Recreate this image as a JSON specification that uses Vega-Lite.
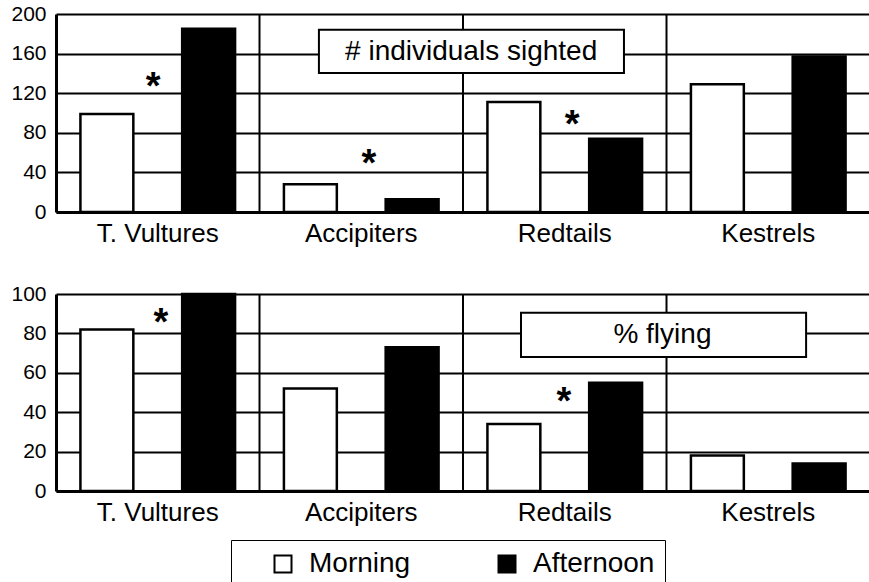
{
  "$schema": "https://vega.github.io/schema/vega-lite/v6.json",
  "padding": {"left": 10, "top": 3, "right": 0, "bottom": 0},
  "spacing": 37,
  "config": {
    "font": "Liberation Sans",
    "view": {"stroke": null},
    "axis": {"labelColor": "black", "domainColor": "black", "gridColor": "black", "gridOpacity": 1, "labelFont": "Liberation Sans"},
    "axisY": {"title": null, "grid": true, "gridWidth": 2, "ticks": false, "labelPadding": 10, "labelFontSize": 21, "domainWidth": 3, "labelOverlap": false},
    "legend": {"labelFont": "Liberation Sans", "labelColor": "black"},
    "text": {"font": "Liberation Sans", "color": "black"}
  },
  "datasets": {
    "birds": [
      {"panel": "count", "species": "T. Vultures", "time": "Morning", "value": 99},
      {"panel": "count", "species": "T. Vultures", "time": "Afternoon", "value": 185},
      {"panel": "count", "species": "Accipiters", "time": "Morning", "value": 28},
      {"panel": "count", "species": "Accipiters", "time": "Afternoon", "value": 13},
      {"panel": "count", "species": "Redtails", "time": "Morning", "value": 111},
      {"panel": "count", "species": "Redtails", "time": "Afternoon", "value": 74},
      {"panel": "count", "species": "Kestrels", "time": "Morning", "value": 129},
      {"panel": "count", "species": "Kestrels", "time": "Afternoon", "value": 157},
      {"panel": "flying", "species": "T. Vultures", "time": "Morning", "value": 82},
      {"panel": "flying", "species": "T. Vultures", "time": "Afternoon", "value": 100},
      {"panel": "flying", "species": "Accipiters", "time": "Morning", "value": 52},
      {"panel": "flying", "species": "Accipiters", "time": "Afternoon", "value": 73},
      {"panel": "flying", "species": "Redtails", "time": "Morning", "value": 34},
      {"panel": "flying", "species": "Redtails", "time": "Afternoon", "value": 55},
      {"panel": "flying", "species": "Kestrels", "time": "Morning", "value": 18},
      {"panel": "flying", "species": "Kestrels", "time": "Afternoon", "value": 14}
    ],
    "dividers": [{"d": 1}, {"d": 2}, {"d": 3}],
    "boxes": [
      {"panel": "count", "left": 1.292, "right": 2.791, "low": 140.5, "high": 184, "tx": 2.04, "ty": 162, "label": "# individuals sighted"},
      {"panel": "flying", "left": 2.285, "right": 3.686, "low": 68, "high": 90.5, "tx": 2.98, "ty": 79.3, "label": "% flying"}
    ],
    "stars": [
      {"panel": "count", "sx": 0.477, "sy": 132},
      {"panel": "count", "sx": 1.538, "sy": 55},
      {"panel": "count", "sx": 2.536, "sy": 94},
      {"panel": "flying", "sx": 0.516, "sy": 88.5},
      {"panel": "flying", "sx": 2.496, "sy": 48}
    ]
  },
  "vconcat": [
    {
      "width": 814,
      "height": 198,
      "resolve": {"scale": {"x": "independent"}, "axis": {"x": "independent"}},
      "layer": [
        {
          "data": {"name": "dividers"},
          "mark": {"type": "rule", "stroke": "black", "strokeWidth": 2},
          "encoding": {
            "x": {"field": "d", "type": "quantitative", "scale": {"domain": [0, 4], "nice": false, "zero": false}, "axis": null}
          }
        },
        {
          "data": {"name": "birds"},
          "transform": [{"filter": "datum.panel === 'count'"}],
          "mark": {"type": "bar", "stroke": "black", "strokeWidth": 2.5},
          "encoding": {
            "x": {"field": "species", "type": "nominal", "sort": ["T. Vultures", "Accipiters", "Redtails", "Kestrels"],
              "scale": {"paddingInner": 0, "paddingOuter": 0},
              "axis": {"title": null, "labelAngle": 0, "ticks": false, "labelFontSize": 26, "labelPadding": 8, "domainWidth": 3, "grid": false}},
            "xOffset": {"field": "time", "type": "nominal", "sort": ["Morning", "Afternoon"], "scale": {"paddingInner": 0.48, "paddingOuter": 0.24}},
            "y": {"field": "value", "type": "quantitative", "scale": {"domain": [0, 200], "nice": false},
              "axis": {"values": [0, 40, 80, 120, 160, 200]}},
            "fill": {"field": "time", "type": "nominal", "scale": {"domain": ["Morning", "Afternoon"], "range": ["white", "black"]},
              "legend": {"title": null, "orient": "none", "legendX": 175, "legendY": 526, "direction": "horizontal", "labelFontSize": 28, "symbolType": "square", "symbolSize": 289, "symbolStrokeColor": "black", "symbolStrokeWidth": 2, "symbolOffset": 28, "labelOffset": 12, "columnPadding": 54, "padding": 10, "strokeColor": "black"}}
          }
        },
        {
          "data": {"name": "boxes"},
          "transform": [{"filter": "datum.panel === 'count'"}],
          "mark": {"type": "rect", "fill": "white", "stroke": "black", "strokeWidth": 2},
          "encoding": {
            "x": {"field": "left", "type": "quantitative", "scale": {"domain": [0, 4], "nice": false, "zero": false}, "axis": null},
            "x2": {"field": "right"},
            "y": {"field": "low", "type": "quantitative", "axis": {"values": [0, 40, 80, 120, 160, 200]}},
            "y2": {"field": "high"}
          }
        },
        {
          "data": {"name": "boxes"},
          "transform": [{"filter": "datum.panel === 'count'"}],
          "mark": {"type": "text", "fontSize": 28, "align": "center", "baseline": "middle"},
          "encoding": {
            "x": {"field": "tx", "type": "quantitative", "scale": {"domain": [0, 4], "nice": false, "zero": false}, "axis": null},
            "y": {"field": "ty", "type": "quantitative", "axis": {"values": [0, 40, 80, 120, 160, 200]}},
            "text": {"field": "label"}
          }
        },
        {
          "data": {"name": "stars"},
          "transform": [{"filter": "datum.panel === 'count'"}],
          "mark": {"type": "text", "text": "*", "fontSize": 38, "fontWeight": "bold", "align": "center", "baseline": "middle", "dy": 7},
          "encoding": {
            "x": {"field": "sx", "type": "quantitative", "scale": {"domain": [0, 4], "nice": false, "zero": false}, "axis": null},
            "y": {"field": "sy", "type": "quantitative", "axis": {"values": [0, 40, 80, 120, 160, 200]}}
          }
        }
      ]
    },
    {
      "width": 814,
      "height": 197,
      "resolve": {"scale": {"x": "independent"}, "axis": {"x": "independent"}},
      "layer": [
        {
          "data": {"name": "dividers"},
          "mark": {"type": "rule", "stroke": "black", "strokeWidth": 2},
          "encoding": {
            "x": {"field": "d", "type": "quantitative", "scale": {"domain": [0, 4], "nice": false, "zero": false}, "axis": null}
          }
        },
        {
          "data": {"name": "birds"},
          "transform": [{"filter": "datum.panel === 'flying'"}],
          "mark": {"type": "bar", "stroke": "black", "strokeWidth": 2.5},
          "encoding": {
            "x": {"field": "species", "type": "nominal", "sort": ["T. Vultures", "Accipiters", "Redtails", "Kestrels"],
              "scale": {"paddingInner": 0, "paddingOuter": 0},
              "axis": {"title": null, "labelAngle": 0, "ticks": false, "labelFontSize": 26, "labelPadding": 8, "domainWidth": 3, "grid": false}},
            "xOffset": {"field": "time", "type": "nominal", "sort": ["Morning", "Afternoon"], "scale": {"paddingInner": 0.48, "paddingOuter": 0.24}},
            "y": {"field": "value", "type": "quantitative", "scale": {"domain": [0, 100], "nice": false},
              "axis": {"values": [0, 20, 40, 60, 80, 100]}},
            "fill": {"field": "time", "type": "nominal", "scale": {"domain": ["Morning", "Afternoon"], "range": ["white", "black"]},
              "legend": {"title": null, "orient": "none", "legendX": 175, "legendY": 526, "direction": "horizontal", "labelFontSize": 28, "symbolType": "square", "symbolSize": 289, "symbolStrokeColor": "black", "symbolStrokeWidth": 2, "symbolOffset": 28, "labelOffset": 12, "columnPadding": 54, "padding": 10, "strokeColor": "black"}}
          }
        },
        {
          "data": {"name": "boxes"},
          "transform": [{"filter": "datum.panel === 'flying'"}],
          "mark": {"type": "rect", "fill": "white", "stroke": "black", "strokeWidth": 2},
          "encoding": {
            "x": {"field": "left", "type": "quantitative", "scale": {"domain": [0, 4], "nice": false, "zero": false}, "axis": null},
            "x2": {"field": "right"},
            "y": {"field": "low", "type": "quantitative", "axis": {"values": [0, 20, 40, 60, 80, 100]}},
            "y2": {"field": "high"}
          }
        },
        {
          "data": {"name": "boxes"},
          "transform": [{"filter": "datum.panel === 'flying'"}],
          "mark": {"type": "text", "fontSize": 28, "align": "center", "baseline": "middle"},
          "encoding": {
            "x": {"field": "tx", "type": "quantitative", "scale": {"domain": [0, 4], "nice": false, "zero": false}, "axis": null},
            "y": {"field": "ty", "type": "quantitative", "axis": {"values": [0, 20, 40, 60, 80, 100]}},
            "text": {"field": "label"}
          }
        },
        {
          "data": {"name": "stars"},
          "transform": [{"filter": "datum.panel === 'flying'"}],
          "mark": {"type": "text", "text": "*", "fontSize": 38, "fontWeight": "bold", "align": "center", "baseline": "middle", "dy": 7},
          "encoding": {
            "x": {"field": "sx", "type": "quantitative", "scale": {"domain": [0, 4], "nice": false, "zero": false}, "axis": null},
            "y": {"field": "sy", "type": "quantitative", "axis": {"values": [0, 20, 40, 60, 80, 100]}}
          }
        }
      ]
    }
  ]
}
